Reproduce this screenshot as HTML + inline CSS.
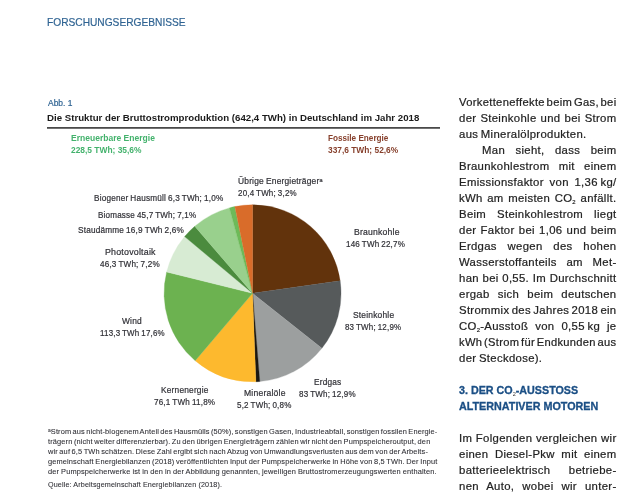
<!DOCTYPE html><html lang="de"><head><meta charset="utf-8"><title>Forschungsergebnisse</title><style>
html,body{margin:0;padding:0;background:#fff}
body{width:638px;height:497px;position:relative;overflow:hidden;font-family:"Liberation Sans", sans-serif}
.t{-webkit-text-stroke:0.2px currentColor;position:absolute;white-space:nowrap;line-height:1;transform-origin:0 0;margin:0}
.j{text-align:justify;text-align-last:justify}
sup{font-size:66%;vertical-align:baseline;position:relative;top:-0.42em;line-height:0}
sub.h{font-weight:400;color:#333;-webkit-text-stroke:0}
sub{font-size:52%;vertical-align:baseline;position:relative;top:0.42em;line-height:0}
svg{position:absolute;left:0;top:0}
.rule{position:absolute;left:47px;top:127px;width:393px;height:2px;background:linear-gradient(#4a4a4a 50%,#727272 50%)}
</style></head><body>
<svg width="638" height="497" viewBox="0 0 638 497"><path d="M252.55 293.3L252.55 204.80A88.5 88.5 0 0 1 340.16 280.81Z" fill="#62330c" stroke="#62330c" stroke-width="0.3"/>
<path d="M252.55 293.3L340.16 280.81A88.5 88.5 0 0 1 321.89 348.29Z" fill="#565a5b" stroke="#565a5b" stroke-width="0.3"/>
<path d="M252.55 293.3L321.89 348.29A88.5 88.5 0 0 1 259.79 381.50Z" fill="#9c9f9f" stroke="#9c9f9f" stroke-width="0.3"/>
<path d="M252.55 293.3L259.79 381.50A88.5 88.5 0 0 1 255.89 381.74Z" fill="#1a1712" stroke="#1a1712" stroke-width="0.3"/>
<path d="M252.55 293.3L255.89 381.74A88.5 88.5 0 0 1 195.19 360.70Z" fill="#fdb92e" stroke="#fdb92e" stroke-width="0.3"/>
<path d="M252.55 293.3L195.19 360.70A88.5 88.5 0 0 1 166.64 272.06Z" fill="#6cb250" stroke="#6cb250" stroke-width="0.3"/>
<path d="M252.55 293.3L166.64 272.06A88.5 88.5 0 0 1 184.62 236.58Z" fill="#d7ebd3" stroke="#d7ebd3" stroke-width="0.3"/>
<path d="M252.55 293.3L184.62 236.58A88.5 88.5 0 0 1 194.77 226.27Z" fill="#4b8b3e" stroke="#4b8b3e" stroke-width="0.3"/>
<path d="M252.55 293.3L194.77 226.27A88.5 88.5 0 0 1 229.42 207.88Z" fill="#99d08d" stroke="#99d08d" stroke-width="0.3"/>
<path d="M252.55 293.3L229.42 207.88A88.5 88.5 0 0 1 234.84 206.59Z" fill="#6dba59" stroke="#6dba59" stroke-width="0.3"/>
<path d="M252.55 293.3L234.84 206.59A88.5 88.5 0 0 1 252.55 204.80Z" fill="#d96c2a" stroke="#d96c2a" stroke-width="0.3"/></svg>
<div class="rule"></div>
<div class="t" id="t0" style="left:47.00px;top:17.00px;font-size:11.4px;color:#2f6392;transform:scaleX(0.8937);">FORSCHUNGSERGEBNISSE</div>
<div class="t" id="t1" style="left:47.60px;top:99.00px;font-size:8.7px;color:#2f6392;transform:scaleX(0.9711);">Abb. 1</div>
<div class="t" id="t2" style="left:47.20px;top:113.00px;font-size:9.9px;color:#1a1a1a;font-weight:700;-webkit-text-stroke:0;transform:scaleX(0.9791);">Die Struktur der Bruttostromproduktion (642,4 TWh) in Deutschland im Jahr 2018</div>
<div class="t" id="t3" style="left:70.50px;top:134.00px;font-size:8.5px;color:#43b26c;font-weight:700;-webkit-text-stroke:0;transform:scaleX(1.0033);">Erneuerbare Energie</div>
<div class="t" id="t4" style="left:70.50px;top:146.00px;font-size:8.5px;color:#43b26c;font-weight:700;-webkit-text-stroke:0;transform:scaleX(0.9882);">228,5 TWh; 35,6%</div>
<div class="t" id="t5" style="left:327.70px;top:134.00px;font-size:8.5px;color:#863f2b;font-weight:700;-webkit-text-stroke:0;transform:scaleX(0.9611);">Fossile Energie</div>
<div class="t" id="t6" style="left:327.70px;top:146.00px;font-size:8.5px;color:#863f2b;font-weight:700;-webkit-text-stroke:0;transform:scaleX(0.9840);">337,6 TWh; 52,6%</div>
<div class="t" id="t7" style="left:237.80px;top:177.00px;font-size:8.6px;color:#303036;letter-spacing:0.2px;word-spacing:-0.5px;transform:scaleX(0.9776);">Übrige Energieträger<sup>a</sup></div>
<div class="t" id="t8" style="left:237.80px;top:189.00px;font-size:8.6px;color:#303036;letter-spacing:0.2px;word-spacing:-0.5px;transform:scaleX(0.9294);">20,4 TWh; 3,2%</div>
<div class="t" id="t9" style="left:93.80px;top:194.00px;font-size:8.6px;color:#303036;letter-spacing:0.2px;word-spacing:-0.5px;transform:scaleX(0.9530);">Biogener Hausmüll 6,3 TWh; 1,0%</div>
<div class="t" id="t10" style="left:97.70px;top:211.00px;font-size:8.6px;color:#303036;letter-spacing:0.2px;word-spacing:-0.5px;transform:scaleX(0.9390);">Biomasse 45,7 TWh; 7,1%</div>
<div class="t" id="t11" style="left:77.70px;top:226.00px;font-size:8.6px;color:#303036;letter-spacing:0.2px;word-spacing:-0.5px;transform:scaleX(0.9567);">Staudämme 16,9 TWh 2,6%</div>
<div class="t" id="t12" style="left:105.10px;top:248.00px;font-size:8.6px;color:#303036;letter-spacing:0.2px;word-spacing:-0.5px;transform:scaleX(1.0301);">Photovoltaik</div>
<div class="t" id="t13" style="left:100.40px;top:260.00px;font-size:8.6px;color:#303036;letter-spacing:0.2px;word-spacing:-0.5px;transform:scaleX(0.9452);">46,3 TWh; 7,2%</div>
<div class="t" id="t14" style="left:121.80px;top:317.00px;font-size:8.6px;color:#303036;letter-spacing:0.2px;word-spacing:-0.5px;transform:scaleX(0.9759);">Wind</div>
<div class="t" id="t15" style="left:99.70px;top:329.00px;font-size:8.6px;color:#303036;letter-spacing:0.2px;word-spacing:-0.5px;transform:scaleX(0.9271);">113,3 TWh 17,6%</div>
<div class="t" id="t16" style="left:161.00px;top:386.00px;font-size:8.6px;color:#303036;letter-spacing:0.2px;word-spacing:-0.5px;transform:scaleX(0.9708);">Kernenergie</div>
<div class="t" id="t17" style="left:153.80px;top:398.00px;font-size:8.6px;color:#303036;letter-spacing:0.2px;word-spacing:-0.5px;transform:scaleX(0.9413);">76,1 TWh 11,8%</div>
<div class="t" id="t18" style="left:243.50px;top:389.00px;font-size:8.6px;color:#303036;letter-spacing:0.2px;word-spacing:-0.5px;transform:scaleX(1.0011);">Mineralöle</div>
<div class="t" id="t19" style="left:236.70px;top:401.00px;font-size:8.6px;color:#303036;letter-spacing:0.2px;word-spacing:-0.5px;transform:scaleX(0.9349);">5,2 TWh; 0,8%</div>
<div class="t" id="t20" style="left:313.80px;top:378.00px;font-size:8.6px;color:#303036;letter-spacing:0.2px;word-spacing:-0.5px;transform:scaleX(0.9635);">Erdgas</div>
<div class="t" id="t21" style="left:299.00px;top:390.00px;font-size:8.6px;color:#303036;letter-spacing:0.2px;word-spacing:-0.5px;transform:scaleX(0.9359);">83 TWh; 12,9%</div>
<div class="t" id="t22" style="left:352.90px;top:311.00px;font-size:8.6px;color:#303036;letter-spacing:0.2px;word-spacing:-0.5px;transform:scaleX(0.9801);">Steinkohle</div>
<div class="t" id="t23" style="left:344.80px;top:323.00px;font-size:8.6px;color:#303036;letter-spacing:0.2px;word-spacing:-0.5px;transform:scaleX(0.9277);">83 TWh; 12,9%</div>
<div class="t" id="t24" style="left:353.50px;top:228.00px;font-size:8.6px;color:#303036;letter-spacing:0.2px;word-spacing:-0.5px;transform:scaleX(1.0047);">Braunkohle</div>
<div class="t" id="t25" style="left:346.30px;top:240.00px;font-size:8.6px;color:#303036;letter-spacing:0.2px;word-spacing:-0.5px;transform:scaleX(0.9353);">146 TWh 22,7%</div>
<div class="t j" id="t26" style="left:47.60px;top:428.00px;font-size:7.0px;color:#303036;letter-spacing:0.12px;word-spacing:-0.902px;-webkit-text-stroke:0.08px currentColor;width:367.36px;transform:scaleX(1.0600);"><sup>a</sup>Strom aus nicht-biogenem Anteil des Hausmülls (50%), sonstigen Gasen, Industrieabfall, sonstigen fossilen Energie-</div>
<div class="t j" id="t27" style="left:47.60px;top:438.00px;font-size:7.0px;color:#303036;letter-spacing:0.12px;word-spacing:-0.706px;-webkit-text-stroke:0.08px currentColor;width:360.75px;transform:scaleX(1.0600);">trägern (nicht weiter differenzierbar). Zu den übrigen Energieträgern zählen wir nicht den Pumpspeicheroutput, den</div>
<div class="t j" id="t28" style="left:47.60px;top:448.00px;font-size:7.0px;color:#303036;letter-spacing:0.12px;word-spacing:-0.681px;-webkit-text-stroke:0.08px currentColor;width:358.49px;transform:scaleX(1.0600);">wir auf 6,5 TWh schätzen. Diese Zahl ergibt sich nach Abzug von Umwandlungsverlusten aus dem von der Arbeits-</div>
<div class="t j" id="t29" style="left:47.60px;top:458.00px;font-size:7.0px;color:#303036;letter-spacing:0.12px;word-spacing:-0.55px;-webkit-text-stroke:0.08px currentColor;width:367.36px;transform:scaleX(1.0600);">gemeinschaft Energiebilanzen (2018) veröffentlichten Input der Pumpspeicherwerke in Höhe von 8,5 TWh. Der Input</div>
<div class="t j" id="t30" style="left:47.60px;top:468.00px;font-size:7.0px;color:#303036;letter-spacing:0.12px;word-spacing:-0.273px;-webkit-text-stroke:0.08px currentColor;width:366.60px;transform:scaleX(1.0600);">der Pumpspeicherwerke ist in den in der Abbildung genannten, jeweiligen Bruttostromerzeugungswerten enthalten.</div>
<div class="t" id="t31" style="left:47.60px;top:481.00px;font-size:7.0px;color:#303036;letter-spacing:0.12px;-webkit-text-stroke:0.08px currentColor;transform:scaleX(1.0268);">Quelle: Arbeitsgemeinschaft Energiebilanzen (2018).</div>
<div class="t j" id="t32" style="left:459.00px;top:97.00px;font-size:10.6px;color:#222;letter-spacing:0.3px;word-spacing:-1.696px;width:148.89px;transform:scaleX(1.0578);">Vorketteneffekte beim Gas, bei</div>
<div class="t j" id="t33" style="left:459.00px;top:113.00px;font-size:10.6px;color:#222;letter-spacing:0.3px;word-spacing:-0.8px;width:147.20px;transform:scaleX(1.0700);">der Steinkohle und bei Strom</div>
<div class="t" id="t34" style="left:459.00px;top:129.00px;font-size:10.6px;color:#222;letter-spacing:0.3px;word-spacing:-0.8px;transform:scaleX(1.0700);">aus Mineralölprodukten.</div>
<div class="t j" id="t35" style="left:482.00px;top:145.00px;font-size:10.6px;color:#222;letter-spacing:0.3px;word-spacing:-0.8px;width:125.70px;transform:scaleX(1.0700);">Man sieht, dass beim</div>
<div class="t j" id="t36" style="left:459.00px;top:161.00px;font-size:10.6px;color:#222;letter-spacing:0.3px;word-spacing:-0.8px;width:147.20px;transform:scaleX(1.0700);">Braunkohlestrom mit einem</div>
<div class="t j" id="t37" style="left:459.00px;top:177.00px;font-size:10.6px;color:#222;letter-spacing:0.3px;word-spacing:-0.8px;width:147.20px;transform:scaleX(1.0700);">Emissionsfaktor von 1,36&#8239;kg/</div>
<div class="t j" id="t38" style="left:459.00px;top:193.00px;font-size:10.6px;color:#222;letter-spacing:0.3px;word-spacing:-0.8px;width:147.20px;transform:scaleX(1.0700);">kWh am meisten CO<sub>2</sub> anfällt.</div>
<div class="t j" id="t39" style="left:459.00px;top:209.00px;font-size:10.6px;color:#222;letter-spacing:0.3px;word-spacing:-0.8px;width:147.20px;transform:scaleX(1.0700);">Beim Steinkohlestrom liegt</div>
<div class="t j" id="t40" style="left:459.00px;top:225.00px;font-size:10.6px;color:#222;letter-spacing:0.3px;word-spacing:-0.8px;width:147.20px;transform:scaleX(1.0700);">der Faktor bei 1,06 und beim</div>
<div class="t j" id="t41" style="left:459.00px;top:241.00px;font-size:10.6px;color:#222;letter-spacing:0.3px;word-spacing:-0.8px;width:147.20px;transform:scaleX(1.0700);">Erdgas wegen des hohen</div>
<div class="t j" id="t42" style="left:459.00px;top:257.00px;font-size:10.6px;color:#222;letter-spacing:0.3px;word-spacing:-0.8px;width:147.20px;transform:scaleX(1.0700);">Wasserstoffanteils am Met-</div>
<div class="t j" id="t43" style="left:459.00px;top:273.00px;font-size:10.6px;color:#222;letter-spacing:0.3px;word-spacing:-0.8px;width:147.20px;transform:scaleX(1.0700);">han bei 0,55. Im Durchschnitt</div>
<div class="t j" id="t44" style="left:459.00px;top:289.00px;font-size:10.6px;color:#222;letter-spacing:0.3px;word-spacing:-0.8px;width:147.20px;transform:scaleX(1.0700);">ergab sich beim deutschen</div>
<div class="t j" id="t45" style="left:459.00px;top:305.00px;font-size:10.6px;color:#222;letter-spacing:0.3px;word-spacing:-1.149px;width:147.20px;transform:scaleX(1.0700);">Strommix des Jahres 2018 ein</div>
<div class="t j" id="t46" style="left:459.00px;top:321.00px;font-size:10.6px;color:#222;letter-spacing:0.3px;word-spacing:-0.8px;width:147.20px;transform:scaleX(1.0700);">CO<sub>2</sub>-Ausstoß von 0,55&#8239;kg je</div>
<div class="t j" id="t47" style="left:459.00px;top:337.00px;font-size:10.6px;color:#222;letter-spacing:0.3px;word-spacing:-1.696px;width:149.72px;transform:scaleX(1.0520);">kWh (Strom für Endkunden aus</div>
<div class="t" id="t48" style="left:459.00px;top:353.00px;font-size:10.6px;color:#222;letter-spacing:0.3px;word-spacing:-0.8px;transform:scaleX(1.0700);">der Steckdose).</div>
<div class="t" id="t49" style="left:459.40px;top:386.00px;font-size:10.45px;color:#1b4f85;font-weight:700;-webkit-text-stroke:0.3px currentColor;transform:scaleX(1.0281);">3. DER CO<sub class="h">2</sub>-AUSSTOSS</div>
<div class="t" id="t50" style="left:459.40px;top:402.00px;font-size:10.45px;color:#1b4f85;font-weight:700;-webkit-text-stroke:0.3px currentColor;transform:scaleX(1.0310);">ALTERNATIVER MOTOREN</div>
<div class="t j" id="t51" style="left:459.00px;top:433.00px;font-size:10.6px;color:#222;letter-spacing:0.3px;word-spacing:-0.8px;width:147.20px;transform:scaleX(1.0700);">Im Folgenden vergleichen wir</div>
<div class="t j" id="t52" style="left:459.00px;top:449.00px;font-size:10.6px;color:#222;letter-spacing:0.3px;word-spacing:-0.8px;width:147.20px;transform:scaleX(1.0700);">einen Diesel-Pkw mit einem</div>
<div class="t j" id="t53" style="left:459.00px;top:465.00px;font-size:10.6px;color:#222;letter-spacing:0.3px;word-spacing:-0.8px;width:147.20px;transform:scaleX(1.0700);">batterieelektrisch betriebe-</div>
<div class="t j" id="t54" style="left:459.00px;top:481.00px;font-size:10.6px;color:#222;letter-spacing:0.3px;word-spacing:-0.8px;width:147.20px;transform:scaleX(1.0700);">nen Auto, wobei wir unter-</div>
</body></html>
